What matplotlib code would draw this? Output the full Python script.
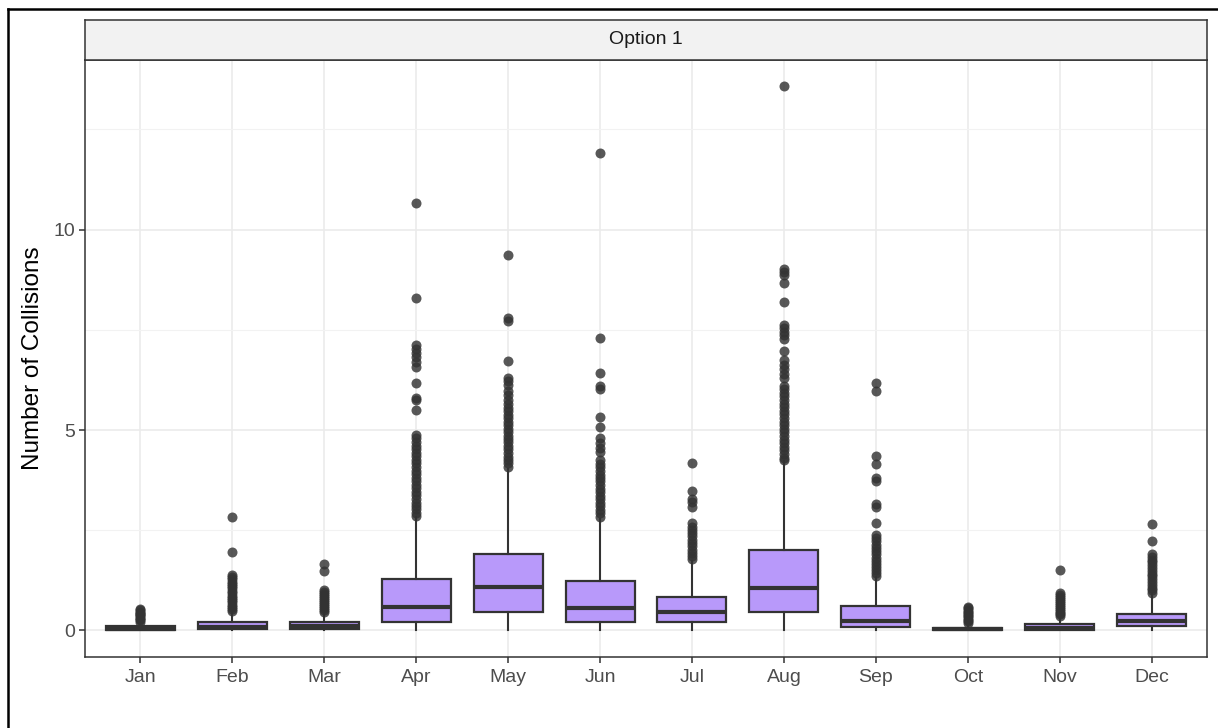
import matplotlib
matplotlib.use("Agg")
import matplotlib.pyplot as plt
from matplotlib.lines import Line2D

plt.rcParams["font.family"] = ["Liberation Sans", "DejaVu Sans"]

# Monthly collision summaries
months = ["Jan", "Feb", "Mar", "Apr", "May", "Jun",
          "Jul", "Aug", "Sep", "Oct", "Nov", "Dec"]
whisker_low = [0.00, 0.00, 0.00, 0.00, 0.00, 0.00, 0.00, 0.00, 0.00, 0.00, 0.00, 0.00]
quartile_1 = [0.00, 0.03, 0.03, 0.20, 0.46, 0.22, 0.20, 0.45, 0.08, 0.00, 0.01, 0.10]
medians = [0.04, 0.09, 0.12, 0.58, 1.08, 0.55, 0.47, 1.07, 0.24, 0.03, 0.07, 0.24]
quartile_3 = [0.10, 0.22, 0.20, 1.28, 1.90, 1.24, 0.84, 2.01, 0.60, 0.07, 0.15, 0.42]
whisker_high = [0.20, 0.46, 0.44, 2.82, 4.02, 2.78, 1.74, 4.22, 1.34, 0.15, 0.33, 0.92]

outliers_jan = [0.22, 0.26, 0.29, 0.32, 0.35, 0.38, 0.41, 0.44, 0.47, 0.50, 0.53]
outliers_feb = [2.83, 1.96, 1.38, 1.33, 1.28, 1.22, 1.17, 1.11, 1.05, 0.99, 0.93,
                0.87, 0.82, 0.76, 0.70, 0.64, 0.59, 0.53, 0.48]
outliers_mar = [1.65, 1.48, 1.01, 0.96, 0.91, 0.86, 0.81, 0.76, 0.71, 0.66, 0.61,
                0.56, 0.51, 0.47]
outliers_apr = [10.67, 8.30, 7.12, 7.02, 6.93, 6.83, 6.70, 6.58, 6.18, 5.80, 5.74,
                5.50, 4.88, 4.79, 4.70, 4.61, 4.52, 4.43, 4.35, 4.26, 4.17, 4.08,
                3.99, 3.90, 3.81, 3.73, 3.64, 3.55, 3.46, 3.37, 3.28, 3.19, 3.10,
                3.02, 2.93, 2.86]
outliers_may = [9.36, 7.79, 7.72, 6.72, 6.30, 6.22, 6.12, 5.98, 5.88, 5.76, 5.64,
                5.55, 5.47, 5.38, 5.29, 5.21, 5.12, 5.03, 4.95, 4.86, 4.78, 4.69,
                4.60, 4.52, 4.43, 4.34, 4.26, 4.17, 4.08]
outliers_jun = [11.92, 7.29, 6.43, 6.10, 6.02, 5.33, 5.08, 4.80, 4.68, 4.55, 4.45,
                4.25, 4.16, 4.07, 3.98, 3.89, 3.80, 3.72, 3.63, 3.54, 3.45, 3.36,
                3.27, 3.18, 3.10, 3.01, 2.92, 2.84]
outliers_jul = [4.17, 3.49, 3.27, 3.20, 3.09, 2.67, 2.59, 2.51, 2.43, 2.35, 2.26,
                2.18, 2.10, 2.01, 1.93, 1.85, 1.78]
outliers_aug = [13.58, 9.01, 8.93, 8.86, 8.68, 8.19, 7.62, 7.55, 7.45, 7.38, 7.26,
                6.97, 6.74, 6.63, 6.52, 6.40, 6.29, 6.11, 6.02, 5.93, 5.84, 5.75,
                5.66, 5.57, 5.48, 5.39, 5.30, 5.21, 5.12, 5.03, 4.94, 4.85, 4.76,
                4.67, 4.58, 4.49, 4.40, 4.31, 4.25]
outliers_sep = [6.18, 5.98, 4.36, 4.15, 3.80, 3.73, 3.15, 3.09, 2.67, 2.38, 2.30,
                2.22, 2.14, 2.06, 1.98, 1.90, 1.82, 1.74, 1.66, 1.58, 1.50, 1.43, 1.37]
outliers_oct = [0.18, 0.23, 0.27, 0.31, 0.35, 0.39, 0.43, 0.47, 0.51, 0.55, 0.59]
outliers_nov = [1.50, 0.94, 0.89, 0.84, 0.79, 0.74, 0.69, 0.64, 0.59, 0.54, 0.49,
                0.44, 0.40, 0.36]
outliers_dec = [2.66, 2.22, 1.91, 1.84, 1.77, 1.70, 1.63, 1.56, 1.49, 1.42, 1.35,
                1.28, 1.21, 1.14, 1.07, 1.01, 0.94]

outliers = [outliers_jan, outliers_feb, outliers_mar, outliers_apr, outliers_may,
            outliers_jun, outliers_jul, outliers_aug, outliers_sep, outliers_oct,
            outliers_nov, outliers_dec]

panel_title = "Option 1"
y_label = "Number of Collisions"

W, H = 1218, 728
fig = plt.figure(figsize=(W / 100, H / 100), dpi=100)
fig.patch.set_facecolor("white")

# panel rectangle in pixels
left, right, top, bottom = 85, 1207, 60, 657
ax = fig.add_axes([left / W, 1 - bottom / H, (right - left) / W, (bottom - top) / H])

stats = []
for i, m in enumerate(months):
    stats.append(dict(label=m, whislo=whisker_low[i], q1=quartile_1[i], med=medians[i],
                      q3=quartile_3[i], whishi=whisker_high[i], fliers=outliers[i]))

positions = list(range(1, len(months) + 1))
edge = "#333333"
ax.bxp(stats, positions=positions, widths=0.75, patch_artist=True, showcaps=False,
       boxprops=dict(facecolor="#B899FA", edgecolor=edge, linewidth=1.6),
       medianprops=dict(color=edge, linewidth=3.0, solid_capstyle="butt"),
       whiskerprops=dict(color=edge, linewidth=1.5),
       flierprops=dict(marker="o", markersize=7.2, markerfacecolor=edge,
                       markeredgecolor=edge, markeredgewidth=0.0, alpha=0.82,
                       linestyle="none"),
       zorder=3)

ax.set_xlim(0.4, 12.6)
ax.set_ylim(-0.661, 14.23)
ax.set_xticks(positions)
ax.set_xticklabels(months)
ax.set_yticks([0, 5, 10])
ax.set_yticks([2.5, 7.5, 12.5], minor=True)
ax.grid(True, which="major", color="#EBEBEB", linewidth=1.2, zorder=0)
ax.grid(True, which="minor", axis="y", color="#F2F2F2", linewidth=0.8, zorder=0)
ax.set_axisbelow(True)

ax.tick_params(axis="both", which="major", length=4, width=1.1, color=edge,
               labelsize=14, labelcolor="#4D4D4D")
ax.tick_params(axis="x", which="major", pad=5)
ax.tick_params(axis="y", which="major", pad=3)
ax.tick_params(axis="y", which="minor", length=0)
for s in ax.spines.values():
    s.set_color(edge)
    s.set_linewidth(1.1)

ax.set_ylabel(y_label, fontsize=17.5, color="black", labelpad=7)

# facet strip above the panel
strip_top = 20
sax = fig.add_axes([left / W, 1 - top / H, (right - left) / W, (top - strip_top) / H])
sax.set_xticks([])
sax.set_yticks([])
sax.set_facecolor("#F2F2F2")
for s in sax.spines.values():
    s.set_color(edge)
    s.set_linewidth(1.1)
sax.text(0.5, 0.5, panel_title, ha="center", va="center", fontsize=14,
         color="#1A1A1A", transform=sax.transAxes)

# outer frame edges on the left and top
fig.add_artist(Line2D([7.5 / W, 7.5 / W], [0, 1 - 8.5 / H], color="black",
                      linewidth=1.8, transform=fig.transFigure))
fig.add_artist(Line2D([7.5 / W, 1], [1 - 8.5 / H, 1 - 8.5 / H], color="black",
                      linewidth=1.8, transform=fig.transFigure))

fig.savefig("out.png", dpi=100)
